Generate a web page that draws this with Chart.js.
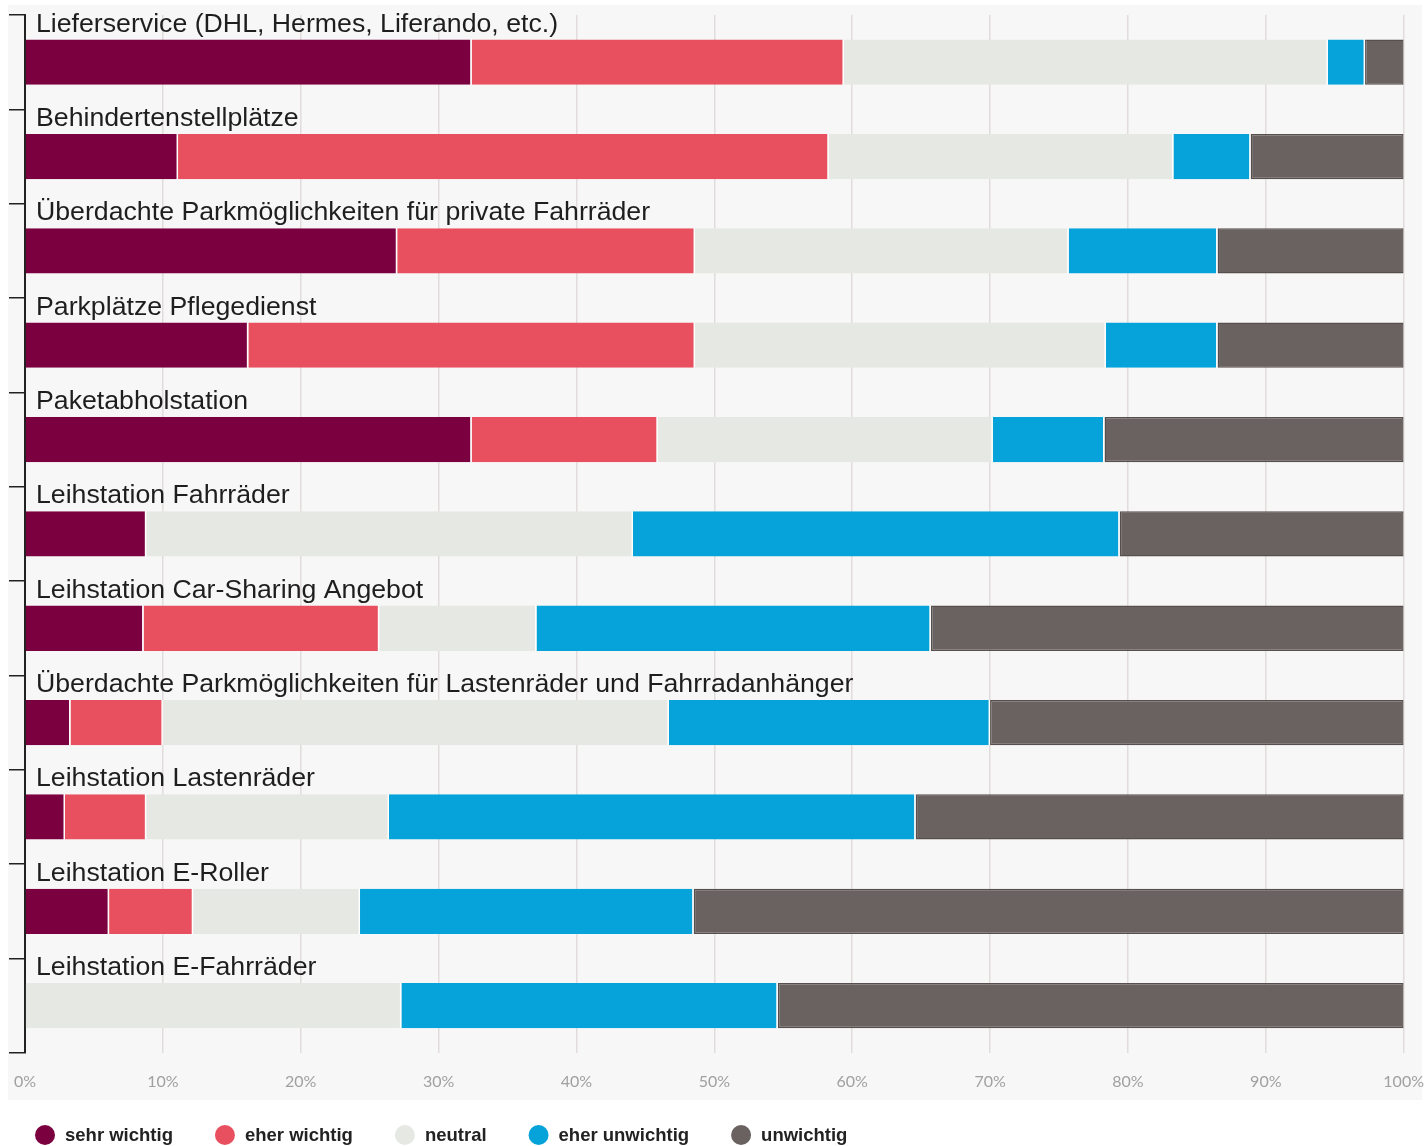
<!DOCTYPE html>
<html lang="de">
<head>
<meta charset="utf-8">
<title>Wichtigkeit der Angebote</title>
<script src="https://cdn.jsdelivr.net/npm/chart.js@4.4.1/dist/chart.umd.min.js"></script>
<style>
  html, body { margin: 0; padding: 0; background: #fff; }
  #wrap { position: relative; width: 1426px; height: 1146px; }
</style>
</head>
<body>
<div id="wrap"><canvas id="ratingChart"></canvas></div>
<script>
// Share of answers per offer, in percent
const categories = [
    'Lieferservice (DHL, Hermes, Liferando, etc.)',
    'Behindertenstellplätze',
    'Überdachte Parkmöglichkeiten für private Fahrräder',
    'Parkplätze Pflegedienst',
    'Paketabholstation',
    'Leihstation Fahrräder',
    'Leihstation Car-Sharing Angebot',
    'Überdachte Parkmöglichkeiten für Lastenräder und Fahrradanhänger',
    'Leihstation Lastenräder',
    'Leihstation E-Roller',
    'Leihstation E-Fahrräder'
];
const sehrWichtig   = [32.4, 11.1, 27.0, 16.2, 32.4,  8.8,  8.6,  3.3,  2.9,  6.1,  0];
const eherWichtig   = [27.0, 47.2, 21.6, 32.4, 13.5,  0,   17.1,  6.7,  5.9,  6.1,  0];
const neutral       = [35.1, 25.0, 27.1, 29.8, 24.3, 35.3, 11.4, 36.7, 17.6, 12.1, 27.3];
const eherUnwichtig = [ 2.7,  5.6, 10.8,  8.1,  8.1, 35.3, 28.6, 23.3, 38.2, 24.2, 27.3];
const unwichtig     = [ 2.8, 11.1, 13.5, 13.5, 21.7, 20.6, 34.3, 30.0, 35.4, 51.5, 45.4];

const seriesLabels = ['sehr wichtig', 'eher wichtig', 'neutral', 'eher unwichtig', 'unwichtig'];
const seriesColors = ['#7b0040', '#e9505f', '#e6e8e3', '#05a3d9', '#6a6260'];
const xTicks = [0, 10, 20, 30, 40, 50, 60, 70, 80, 90, 100];

const LABEL_FONT = '26.7px "Liberation Sans", Arial, sans-serif';
const LEGEND_FONT = 'bold 18.5px "Liberation Sans", Arial, sans-serif';

// light grey panel behind the plot and the axis labels
const panelBackground = {
    id: 'panelBackground',
    beforeDraw(chart) {
        const ctx = chart.ctx;
        ctx.save();
        ctx.fillStyle = '#f7f7f7';
        ctx.fillRect(8, 5, 1414, 1095);
        ctx.restore();
    }
};

// category names sit above each bar instead of on the y axis
const barTitles = {
    id: 'barTitles',
    afterDatasetsDraw(chart) {
        const ctx = chart.ctx;
        const meta = chart.getDatasetMeta(0);
        ctx.save();
        ctx.font = LABEL_FONT;
        ctx.fillStyle = '#1e1e1e';
        ctx.textBaseline = 'alphabetic';
        ctx.textAlign = 'left';
        categories.forEach((name, i) => {
            const bar = meta.data[i];
            const top = bar.y - bar.height / 2;
            ctx.fillText(name, chart.chartArea.left + 11, top - 8);
        });
        ctx.restore();
    }
};

// legend row with round markers under the chart
const dotLegend = {
    id: 'dotLegend',
    afterDraw(chart) {
        const ctx = chart.ctx;
        const y = 1135;
        let x = 35;
        ctx.save();
        ctx.font = LEGEND_FONT;
        ctx.textBaseline = 'middle';
        ctx.textAlign = 'left';
        chart.data.datasets.forEach(ds => {
            ctx.fillStyle = ds.backgroundColor;
            ctx.beginPath();
            ctx.arc(x + 10, y, 10, 0, Math.PI * 2);
            ctx.fill();
            ctx.fillStyle = '#222';
            ctx.fillText(ds.label, x + 30, y + 1);
            x += 30 + ctx.measureText(ds.label).width + 42;
        });
        ctx.restore();
    }
};

const seriesValues = [sehrWichtig, eherWichtig, neutral, eherUnwichtig, unwichtig];

const datasets = seriesValues.map((values, i) => {
    const last = i === seriesValues.length - 1;
    return {
        label: seriesLabels[i],
        data: values,
        backgroundColor: seriesColors[i],
        borderColor: last ? '#574f4d' : '#ffffff',
        borderWidth: last ? 1.5 : { right: 1.5 },
        borderSkipped: false,
        categoryPercentage: 1.0,
        barPercentage: 0.48
    };
});

new Chart(document.getElementById('ratingChart'), {
    type: 'bar',
    data: { labels: categories, datasets: datasets },
    plugins: [panelBackground, barTitles, dotLegend],
    options: {
        indexAxis: 'y',
        responsive: true,
        maintainAspectRatio: false,
        animation: false,
        layout: {
            padding: { top: 15, left: 9, right: 21, bottom: 53 }
        },
        plugins: {
            legend: { display: false },
            tooltip: { enabled: false }
        },
        scales: {
            x: {
                stacked: true,
                min: 0,
                max: 100,
                afterBuildTicks: axis => {
                    axis.ticks = xTicks.map(v => ({ value: v }));
                },
                border: { display: false },
                grid: {
                    color: '#e2dcdc',
                    lineWidth: 1.5,
                    drawTicks: true,
                    tickLength: 17,
                    tickColor: 'rgba(0,0,0,0)'
                },
                ticks: {
                    padding: 2,
                    color: '#a0a0a0',
                    font: { family: 'Lato', size: 16 },
                    maxRotation: 0,
                    callback: value => value + '%'
                }
            },
            y: {
                stacked: true,
                border: { display: true, color: '#222', width: 2 },
                grid: {
                    drawOnChartArea: false,
                    drawTicks: true,
                    tickLength: 16,
                    color: '#222',
                    lineWidth: 1.5
                },
                ticks: { display: false }
            }
        }
    }
});
</script>
</body>
</html>
